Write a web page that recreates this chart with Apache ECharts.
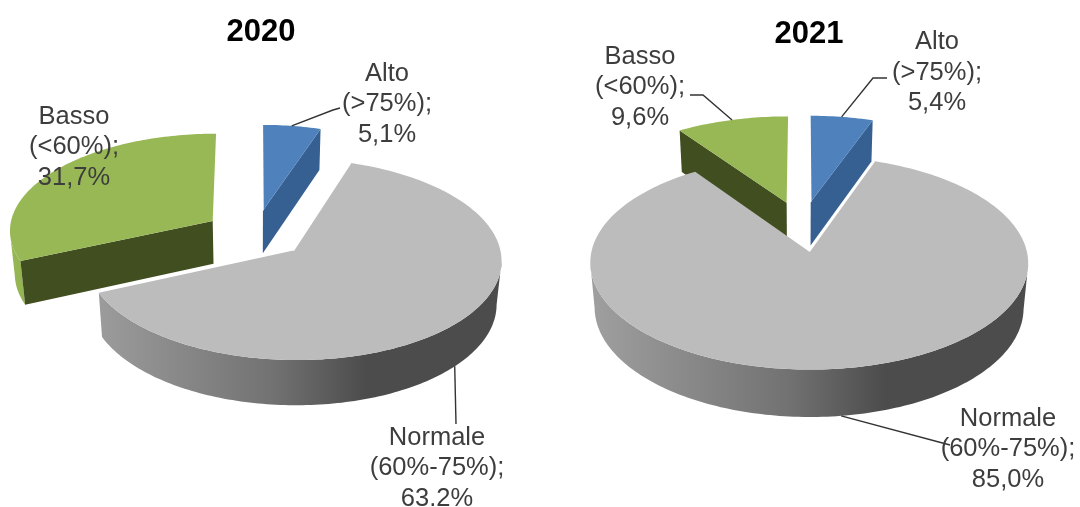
<!DOCTYPE html>
<html>
<head>
<meta charset="utf-8">
<style>html,body{margin:0;padding:0;background:#fff}#chart{width:1080px;height:507px}</style>
<script src="https://cdn.jsdelivr.net/npm/echarts@6/dist/echarts.min.js"></script>
</head>
<body>
<div id="chart"></div>
<script>
// Share of values per class, clockwise from twelve o'clock
const categories = ['Alto', 'Normale', 'Basso'];
const ranges = ['(>75%);', '(60%-75%);', '(<60%);'];
const values2020 = [5.1, 63.2, 31.7];
const values2021 = [5.4, 85.0, 9.6];
const valueLabels2020 = ['5,1%', '63.2%', '31,7%'];
const valueLabels2021 = ['5,4%', '85,0%', '9,6%'];

// Colours per class: top face, cut wall, outer wall ramp (left, middle, right)
const palette = [
  { top: '#4f81bd', cut: '#366092', rim: ['#4f81bd', '#3f6a9e', '#2f5480'] },
  { top: '#bcbcbc', cut: '#555555', rim: ['#9e9e9e', '#727272', '#4c4c4c'] },
  { top: '#98b855', cut: '#414e20', rim: ['#98b855', '#647a35', '#414e20'] }
];

// Disc placement and tilt for each year, with label placement per class
const pies = [
  {
    title: '2020', titleX: 261, titleY: 32, values: values2020, valueLabels: valueLabels2020,
    cx: 255, cy: 234, rx: 204, ry: 97, k: 0.087, depth: 44,
    labels: [
      { x: 387, y: 104, elbow: [[333, 110], [340, 108]] },
      { x: 437, y: 468, elbow: [[456, 424]] },
      { x: 74, y: 147, elbow: null }
    ]
  },
  {
    title: '2021', titleX: 809, titleY: 34, values: values2021, valueLabels: valueLabels2021,
    cx: 802, cy: 226, rx: 212, ry: 100, k: 0.105, depth: 45,
    labels: [
      { x: 937, y: 72.5, elbow: [[873, 78], [887, 78]] },
      { x: 1008, y: 449, elbow: [[950, 445]] },
      { x: 640, y: 87, elbow: [[703, 95], [690, 95]] }
    ]
  }
];

const EXPLODE = 0.25;
const DEPTH_SHRINK = 0.02;
const LINE_HEIGHT = 30.5;
const LABEL_FONT = '25.5px "Liberation Sans", Arial, sans-serif';
const LABEL_COLOR = '#3d3d3d';

// Perspective projection of a point on the disc plane (z = 0 top, z = 1 bottom)
function project(pie, X, Y, z) {
  const s = 1 / (1 + pie.k * Y + DEPTH_SHRINK * z);
  return [pie.cx + pie.rx * X * s, pie.cy - pie.ry * Y * s + pie.depth * z * s];
}

function sliceShapes(pie, index) {
  const total = pie.values.reduce((a, b) => a + b, 0);
  const before = pie.values.slice(0, index).reduce((a, b) => a + b, 0);
  const a0 = before / total * Math.PI * 2;
  const a1 = (before + pie.values[index]) / total * Math.PI * 2;
  const mid = (a0 + a1) / 2;
  const ox = EXPLODE * Math.sin(mid);
  const oy = EXPLODE * Math.cos(mid);
  const rimAt = (a, z) => project(pie, ox + Math.sin(a), oy + Math.cos(a), z);

  const steps = Math.max(12, Math.ceil((a1 - a0) / 0.02));
  const angles = [];
  for (let i = 0; i <= steps; i++) angles.push(a0 + (a1 - a0) * i / steps);

  const apexTop = project(pie, ox, oy, 0);
  const apexBottom = project(pie, ox, oy, 1);
  const colors = palette[index];
  const rank = Math.round((1 - oy) * 100) * 10;
  const children = [];
  const poly = (points, fill, z2) => children.push({
    type: 'polygon', shape: { points: points }, style: { fill: fill }, z2: rank + z2
  });
  const line = (points, stroke, width, z2) => children.push({
    type: 'polyline', shape: { points: points },
    style: { stroke: stroke, lineWidth: width, fill: null }, z2: rank + z2
  });

  // Outer wall: only the stretch of rim that faces the viewer
  const front = [];
  for (let i = 0; i < angles.length; i++) {
    const q = rimAt(angles[Math.min(i + 1, angles.length - 1)], 0);
    const r = rimAt(angles[Math.max(i - 1, 0)], 0);
    if (q[0] - r[0] < 0) front.push(angles[i]);
  }
  if (front.length > 1) {
    const upper = front.map(a => rimAt(a, 0));
    const lower = front.map(a => rimAt(a, 1)).reverse();
    const x0 = pie.cx + pie.rx * (ox - 1.0);
    const x1 = pie.cx + pie.rx * (ox + 1.0);
    const ramp = new echarts.graphic.LinearGradient(x0, 0, x1, 0, [
      { offset: 0, color: colors.rim[0] },
      { offset: 0.45, color: colors.rim[1] },
      { offset: 0.68, color: colors.rim[2] },
      { offset: 1, color: colors.rim[2] }
    ], true);
    poly(upper.concat(lower), ramp, 1);
  }

  // Cut walls, drawn only when the wall faces downwards on screen
  const rim0 = rimAt(a0, 0);
  const rim1 = rimAt(a1, 0);
  const wall0Visible = Math.sin(a0) < -0.05;
  const wall1Visible = Math.sin(a1) > 0.05;
  if (wall0Visible) poly([apexTop, rim0, rimAt(a0, 1), apexBottom], colors.cut, 2);
  if (wall1Visible) poly([apexTop, rim1, rimAt(a1, 1), apexBottom], colors.cut, 2);

  // Top face
  poly([apexTop].concat(angles.map(a => rimAt(a, 0))), colors.top, 3);

  // Thin highlight along the leading cut edge when it faces away from the viewer
  if (!wall0Visible) line([apexTop, rim0], '#ffffff', 1.5, 4);

  // Leader line from the middle of the slice's rim towards its label
  const label = pie.labels[index];
  if (label.elbow) {
    const onFront = Math.cos(mid) < 0;
    const start = rimAt(mid, onFront ? 1 : 0);
    children.push({
      type: 'polyline', shape: { points: [start].concat(label.elbow) },
      style: { stroke: '#333333', lineWidth: 1.4, fill: null }, z2: 9000
    });
  }

  // Three-line data label
  children.push({
    type: 'text', z2: 9001,
    style: {
      x: label.x, y: label.y, align: 'center', verticalAlign: 'middle',
      text: [categories[index], ranges[index], pie.valueLabels[index]].join('\n'),
      font: LABEL_FONT, lineHeight: LINE_HEIGHT, fill: LABEL_COLOR
    }
  });
  return { type: 'group', children: children };
}

const chart = echarts.init(document.getElementById('chart'), null, { renderer: 'canvas' });
chart.setOption({
  backgroundColor: '#ffffff',
  animation: false,
  title: pies.map(p => ({
    text: p.title, left: p.titleX, top: p.titleY, padding: 0,
    textAlign: 'center', textVerticalAlign: 'middle',
    textStyle: { fontFamily: '"Liberation Sans", Arial, sans-serif', fontWeight: 'bold', fontSize: 31, color: '#000000' }
  })),
  series: pies.map(p => ({
    type: 'custom',
    name: p.title,
    coordinateSystem: 'none',
    data: p.values,
    renderItem: (params) => sliceShapes(p, params.dataIndex)
  }))
});
</script>
</body>
</html>
